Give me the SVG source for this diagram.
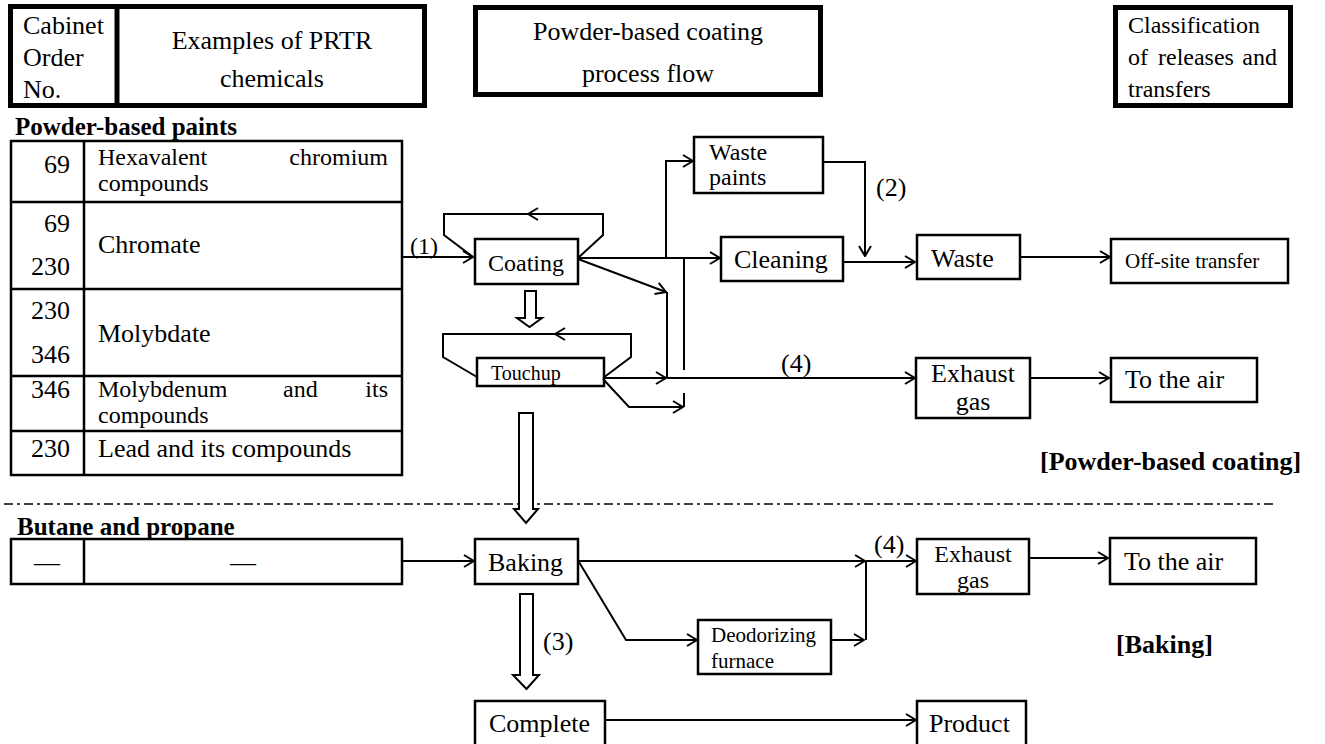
<svg xmlns="http://www.w3.org/2000/svg" width="1325" height="744" viewBox="0 0 1325 744" font-family="'Liberation Serif', 'DejaVu Serif', serif">
  <style>
    text { font-family: 'Liberation Serif', 'DejaVu Serif', serif; font-size: 26px; fill: #000; }
    .b { font-weight: bold; }
    .sm { font-size: 21px; }
    .two { font-size: 24px; }
    .hdr { fill: #fff; stroke: #000; stroke-width: 5; }
    .box { fill: #fff; stroke: #000; stroke-width: 2.5; }
    .tbl { fill: none; stroke: #000; stroke-width: 2.5; }
    .ln { fill: none; stroke: #000; stroke-width: 2; }
    .arr { fill: none; stroke: #000; stroke-width: 2; marker-end: url(#ah); }
    .blk { fill: #fff; stroke: #000; stroke-width: 2; }
    .sep { fill: none; stroke: #000; stroke-width: 1.5; stroke-dasharray: 9 4 3 4; }
    .end { text-anchor: end; }
    .mid { text-anchor: middle; }
  </style>
  <defs>
    <marker id="ah" viewBox="0 0 12 14" refX="11" refY="7" markerWidth="12" markerHeight="14" markerUnits="userSpaceOnUse" orient="auto">
      <path d="M1,1 L11,7 L1,13" fill="none" stroke="#000" stroke-width="2"/>
    </marker>
  </defs>
  <rect width="1325" height="744" fill="#fff"/>

  <!-- column headings -->
  <g id="hdr-chemicals">
    <rect class="hdr" x="10.5" y="6.5" width="414" height="99"/>
    <line x1="117" y1="6" x2="117" y2="106" stroke="#000" stroke-width="5"/>
    <text x="23" y="34">Cabinet</text>
    <text x="23" y="66">Order</text>
    <text x="23" y="98">No.</text>
    <text class="mid" x="272" y="49">Examples of PRTR</text>
    <text class="mid" x="272" y="87">chemicals</text>
  </g>
  <g id="hdr-process">
    <rect class="hdr" x="475.5" y="7.5" width="345" height="87"/>
    <text class="mid" x="648" y="40">Powder-based coating</text>
    <text class="mid" x="648" y="82">process flow</text>
  </g>
  <g id="hdr-class">
    <rect class="hdr" x="1115.5" y="7.5" width="175" height="98"/>
    <text x="1128" y="33" style="font-size:24px">Classification</text>
    <text y="65" style="font-size:24px"><tspan x="1128">of</tspan><tspan x="1158">releases</tspan><tspan x="1277" text-anchor="end">and</tspan></text>
    <text x="1128" y="97" style="font-size:24px">transfers</text>
  </g>

  <!-- powder paint chemicals table -->
  <g id="tbl-powder">
    <text class="b" x="15" y="135" style="font-size:25px">Powder-based paints</text>
    <rect class="tbl" x="11" y="141" width="391" height="334"/>
    <line class="tbl" x1="84" y1="141" x2="84" y2="475"/>
    <line class="tbl" x1="11" y1="202" x2="402" y2="202"/>
    <line class="tbl" x1="11" y1="289" x2="402" y2="289"/>
    <line class="tbl" x1="11" y1="376" x2="402" y2="376"/>
    <line class="tbl" x1="11" y1="431" x2="402" y2="431"/>
    <text class="end" x="70" y="173">69</text>
    <text class="two" x="98" y="165">Hexavalent</text>
    <text class="two end" x="388" y="165">chromium</text>
    <text class="two" x="98" y="191">compounds</text>
    <text class="end" x="70" y="232">69</text>
    <text x="98" y="253">Chromate</text>
    <text class="end" x="70" y="275">230</text>
    <text class="end" x="70" y="319">230</text>
    <text x="98" y="342">Molybdate</text>
    <text class="end" x="70" y="363">346</text>
    <text class="end" x="70" y="398">346</text>
    <text class="two" x="98" y="397">Molybdenum</text>
    <text class="two" x="283" y="397">and</text>
    <text class="two end" x="388" y="397">its</text>
    <text class="two" x="98" y="423">compounds</text>
    <text class="end" x="70" y="457">230</text>
    <text x="98" y="457">Lead and its compounds</text>
  </g>

  <!-- butane / propane table -->
  <g id="tbl-butane">
    <text class="b" x="17" y="535" style="font-size:25px">Butane and propane</text>
    <rect class="tbl" x="11" y="539" width="391" height="45"/>
    <line class="tbl" x1="84" y1="539" x2="84" y2="584"/>
    <text class="mid" x="47" y="571">—</text>
    <text class="mid" x="243" y="571">—</text>
  </g>

  <!-- process steps -->
  <g id="n-coating">
    <rect class="box" x="475" y="239" width="103" height="45"/>
    <text x="488" y="271" style="font-size:24px">Coating</text>
  </g>
  <g id="n-touchup">
    <rect class="box" x="477" y="358" width="127" height="28"/>
    <text x="491" y="380" style="font-size:20px">Touchup</text>
  </g>
  <g id="n-wastepaints">
    <rect class="box" x="694" y="137" width="129" height="56"/>
    <text class="two" x="709" y="160">Waste</text>
    <text class="two" x="709" y="185">paints</text>
  </g>
  <g id="n-cleaning">
    <rect class="box" x="721" y="237" width="122" height="44"/>
    <text x="734" y="268">Cleaning</text>
  </g>
  <g id="n-waste">
    <rect class="box" x="917" y="235" width="103" height="44"/>
    <text x="931" y="267">Waste</text>
  </g>
  <g id="n-offsite">
    <rect class="box" x="1111" y="239" width="177" height="44"/>
    <text class="sm" x="1125" y="268">Off-site transfer</text>
  </g>
  <g id="n-exhaust1">
    <rect class="box" x="916" y="358" width="114" height="60"/>
    <text class="mid" x="973" y="382">Exhaust</text>
    <text class="mid" x="973" y="410">gas</text>
  </g>
  <g id="n-air1">
    <rect class="box" x="1111" y="358" width="146" height="44"/>
    <text x="1125" y="388">To the air</text>
  </g>
  <g id="n-baking">
    <rect class="box" x="475" y="539" width="103" height="45"/>
    <text x="488" y="571">Baking</text>
  </g>
  <g id="n-deodor">
    <rect class="box" x="698" y="620" width="133" height="54"/>
    <text class="sm" x="711" y="642">Deodorizing</text>
    <text class="sm" x="711" y="668">furnace</text>
  </g>
  <g id="n-exhaust2">
    <rect class="box" x="917" y="539" width="112" height="55"/>
    <text class="two mid" x="973" y="562">Exhaust</text>
    <text class="two mid" x="973" y="588">gas</text>
  </g>
  <g id="n-air2">
    <rect class="box" x="1110" y="538" width="146" height="46"/>
    <text x="1124" y="570">To the air</text>
  </g>
  <g id="n-complete">
    <rect class="box" x="475" y="701" width="130" height="60"/>
    <text x="489" y="732">Complete</text>
  </g>
  <g id="n-product">
    <rect class="box" x="917" y="701" width="109" height="60"/>
    <text x="929" y="732">Product</text>
  </g>

  <!-- section labels -->
  <g id="lbl-sections">
    <text class="b" x="1040" y="470">[Powder-based coating]</text>
    <text class="b" x="1116" y="653">[Baking]</text>
    <line class="sep" x1="4" y1="504" x2="1275" y2="504"/>
  </g>

  <!-- connectors -->
  <g id="connectors">
    <!-- (1) paints into coating -->
    <path class="arr" d="M402,257 L473,257"/>
    <text x="410" y="254" style="font-size:24px">(1)</text>
    <!-- coating recirculation loop -->
    <path class="arr" d="M578,258 L603,235 L603,214 L528,214"/>
    <path class="ln" d="M530,214 L444,214 L444,235 L473,257"/>
    <!-- coating outputs -->
    <path class="arr" d="M578,258 L720,258"/>
    <path class="arr" d="M666,258 L666,161 L693,161"/>
    <path class="arr" d="M578,259 L666,292"/>
    <path class="ln" d="M667,292 L667,378"/>
    <path class="ln" d="M684,258 L684,370"/>
    <!-- waste paints to waste, (2) -->
    <path class="arr" d="M823,162 L865,162 L865,256"/>
    <text x="876" y="196">(2)</text>
    <path class="arr" d="M843,262 L915,262"/>
    <path class="arr" d="M1020,257 L1110,257"/>
    <!-- touchup loop -->
    <path class="arr" d="M603,378 L631,357 L631,334 L555,334"/>
    <path class="ln" d="M557,334 L443,334 L443,357 L477,377"/>
    <!-- touchup outputs -->
    <path class="arr" d="M603,378 L666,378"/>
    <path class="arr" d="M667,378 L915,378"/>
    <text x="781" y="372">(4)</text>
    <path class="arr" d="M603,379 L629,407 L683,407"/>
    <path class="ln" d="M684,393 L684,407"/>
    <path class="arr" d="M1030,378 L1109,378"/>
    <!-- block arrows between steps -->
    <polygon class="blk" points="525,291 536,291 536,318 542,318 529.5,327 517,318 525,318"/>
    <polygon class="blk" points="519,413 533,413 533,509 538,509 526,523 514,509 519,509"/>
    <polygon class="blk" points="520,594 533,594 533,675 539,675 526.5,689 513,675 520,675"/>
    <text x="543" y="650">(3)</text>
    <!-- baking -->
    <path class="arr" d="M402,561 L474,561"/>
    <path class="arr" d="M579,561 L865,561"/>
    <path class="arr" d="M866,561 L916,561"/>
    <text x="874" y="553">(4)</text>
    <path class="arr" d="M579,562 L626,640 L697,640"/>
    <path class="arr" d="M831,640 L864,640"/>
    <path class="ln" d="M866,561 L866,640"/>
    <path class="arr" d="M1029,558 L1108,558"/>
    <!-- complete to product -->
    <path class="arr" d="M605,720 L916,720"/>
  </g>
</svg>
